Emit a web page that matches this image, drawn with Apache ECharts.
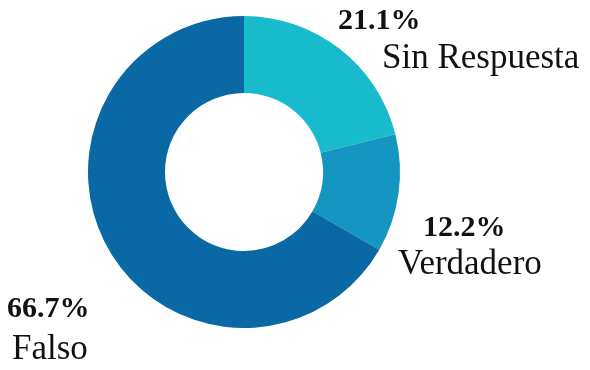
<!DOCTYPE html>
<html>
<head>
<meta charset="utf-8">
<script src="https://cdn.jsdelivr.net/npm/echarts@6/dist/echarts.min.js"></script>
<style>
  html, body { margin: 0; padding: 0; background: #ffffff; }
  #chart { width: 590px; height: 370px; }
</style>
</head>
<body>
<div id="chart"></div>
<script>
// Response breakdown (percent of answers)
const categories = ['Sin Respuesta', 'Verdadero', 'Falso'];
const shares = [21.1, 12.2, 66.7];
const sliceColors = ['#17BBCB', '#1596C1', '#0A69A4'];

// Where each label block sits (top-left corner), line indents and name line height
const labelSpots = [
  { x: 338, y: 1, pctIndent: 0, nameIndent: 44, nameLine: 36 },
  { x: 398, y: 208, pctIndent: 25, nameIndent: 0, nameLine: 34 },
  { x: 7, y: 289, pctIndent: 0, nameIndent: 5, nameLine: 42 }
];

const nameStyle = s => ({
  fontFamily: 'Liberation Serif', fontSize: 35, color: '#111111',
  lineHeight: s.nameLine, padding: [0, 0, 0, s.nameIndent]
});
const pctStyle = s => ({
  fontFamily: 'Liberation Serif', fontWeight: 'bold', fontSize: 30, color: '#111111',
  lineHeight: 40, padding: [0, 0, 0, s.pctIndent]
});

const rich = {};
labelSpots.forEach((s, i) => {
  rich['pct' + i] = pctStyle(s);
  rich['name' + i] = nameStyle(s);
});

const chart = echarts.init(document.getElementById('chart'), null, { renderer: 'canvas' });

chart.setOption({
  backgroundColor: '#ffffff',
  animation: false,
  series: [{
    type: 'pie',
    center: [244, 172],
    radius: [79, 156],
    startAngle: 90,
    clockwise: true,
    silent: true,
    data: categories.map((name, i) => ({
      name: name,
      value: shares[i],
      itemStyle: { color: sliceColors[i] }
    })),
    labelLine: { show: false },
    label: {
      show: true,
      position: 'outside',
      overflow: 'none',
      formatter: p => '{pct' + p.dataIndex + '|' + p.value.toFixed(1) + '%}\n{name' + p.dataIndex + '|' + p.name + '}',
      rich: rich
    },
    labelLayout: function (params) {
      const s = labelSpots[params.dataIndex];
      return { x: s.x, y: s.y, align: 'left', verticalAlign: 'top', hideOverlap: false };
    }
  }]
});
</script>
</body>
</html>
